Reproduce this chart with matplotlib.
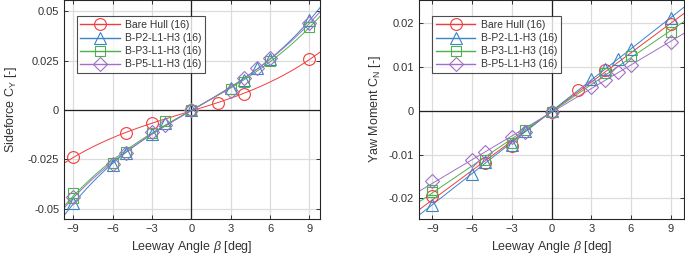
import numpy as np
import matplotlib.pyplot as plt

plt.rcParams['font.family'] = ['Liberation Sans', 'DejaVu Sans']
plt.rcParams['mathtext.fontset'] = 'custom'
plt.rcParams['mathtext.rm'] = 'Liberation Sans'
plt.rcParams['mathtext.it'] = 'Liberation Sans:italic'

labels = ['Bare Hull (16)', 'B-P2-L1-H3 (16)', 'B-P3-L1-H3 (16)', 'B-P5-L1-H3 (16)']
colors = ['#f03c3c', '#3a84c8', '#4cb24c', '#a06fc6']
markers = ['o', '^', 's', 'D']
msizes = [8.5, 8.5, 7.5, 7]

# sideforce C_Y
cy_x = [
    [-9, -5, -3, 0, 2, 4, 9],
    [-9, -6, -5, -3, -2, 0, 3, 4, 5, 6, 9],
    [-9, -9, -6, -5, -3, -2, 0, 3, 4, 6, 9],
    [-9, -6, -5, -3, -2, 0, 3, 4, 5, 6, 9],
]
cy_y = [
    [-0.024, -0.0117, -0.0066, 0.0, 0.0035, 0.0083, 0.0256],
    [-0.0472, -0.028, -0.0218, -0.0122, -0.0068, 0.0, 0.0112, 0.0152, 0.0212, 0.0258, 0.0455],
    [-0.0418, -0.0448, -0.0268, -0.0212, -0.0118, -0.0055, 0.0, 0.0108, 0.0142, 0.0248, 0.042],
    [-0.0442, -0.0272, -0.022, -0.0112, -0.0075, 0.0, 0.0098, 0.0162, 0.0212, 0.0262, 0.0438],
]

# yaw moment C_N
cn_x = [
    [-9, -5, -3, 0, 2, 4, 9],
    [-9, -6, -5, -3, -2, 0, 3, 4, 5, 6, 9],
    [-9, -9, -5, -3, -2, 0, 4, 6, 9],
    [-9, -6, -5, -3, -2, 0, 3, 4, 5, 6, 9],
]
cn_y = [
    [-0.0195, -0.012, -0.008, -0.0002, 0.0048, 0.0093, 0.0198],
    [-0.0215, -0.0145, -0.0116, -0.0078, -0.0045, 0.0, 0.0072, 0.0095, 0.0118, 0.014, 0.0212],
    [-0.018, -0.0186, -0.0113, -0.0073, -0.0043, -0.0002, 0.0087, 0.0125, 0.018],
    [-0.016, -0.0112, -0.0095, -0.006, -0.0048, -0.0003, 0.0055, 0.007, 0.0088, 0.0105, 0.0158],
]

text_c = '#333333'


def style_axes(ax, xlim, ylim, yticks, yticklabels):
    ax.set_xlim(xlim)
    ax.set_ylim(ylim)
    ax.set_xticks([-9, -6, -3, 0, 3, 6, 9])
    ax.set_yticks(yticks)
    ax.set_yticklabels(yticklabels)
    ax.grid(True, color='#dcdcdc', linewidth=0.9, zorder=0)
    ax.axhline(0, color='#222222', linewidth=0.9, zorder=1)
    ax.axvline(0, color='#222222', linewidth=0.9, zorder=1)
    ax.tick_params(direction='in', top=True, right=True, labelsize=8,
                   colors=text_c, length=3, width=0.7)
    for s in ax.spines.values():
        s.set_color('#262626')
        s.set_linewidth(0.8)
    ax.set_axisbelow(True)


def draw(ax, xs, ys, deg, xlim):
    xf = np.linspace(xlim[0], xlim[1], 200)
    for x, y, c, m, ms, lab in zip(xs, ys, colors, markers, msizes, labels):
        p = np.polyfit(x, y, deg)
        ax.plot(xf, np.polyval(p, xf), color=c, linewidth=0.7, zorder=2)
        ax.plot(x, y, linestyle='none', marker=m, markersize=ms,
                markerfacecolor='none', markeredgecolor=c, markeredgewidth=0.8, zorder=3)
        ax.plot([], [], color=c, linewidth=1.0, marker=m, markersize=ms,
                markerfacecolor='none', markeredgecolor=c, markeredgewidth=0.8, label=lab)
    leg = ax.legend(loc='upper left', bbox_to_anchor=(0.05, 0.925), fontsize=7.5,
                    handlelength=3.8, frameon=True, fancybox=False, borderpad=0.35,
                    labelspacing=0.3, handletextpad=0.5, borderaxespad=0)
    leg.get_frame().set_edgecolor('#222222')
    leg.get_frame().set_linewidth(0.8)
    for t in leg.get_texts():
        t.set_color(text_c)


fig = plt.figure(figsize=(6.85, 2.57), dpi=100)
ax1 = fig.add_axes([64 / 685, 38 / 257, 256 / 685, 219 / 257])
ax2 = fig.add_axes([419 / 685, 38 / 257, 265 / 685, 219 / 257])

xl1 = (-9.7, 9.8)
draw(ax1, cy_x, cy_y, 3, xl1)
style_axes(ax1, xl1, (-0.0552, 0.0557), [-0.05, -0.025, 0, 0.025, 0.05],
           ['-0.05', '-0.025', '0', '0.025', '0.05'])
ax1.set_ylabel('Sideforce C$_\\mathregular{Y}$ [-]', fontsize=9, color=text_c, labelpad=6)
ax1.set_xlabel('Leeway Angle $\\it{\\beta}$ [deg]', fontsize=9, color=text_c, labelpad=4)

xl2 = (-10, 10)
draw(ax2, cn_x, cn_y, 1, xl2)
style_axes(ax2, xl2, (-0.0247, 0.0253), [-0.02, -0.01, 0, 0.01, 0.02],
           ['-0.02', '-0.01', '0', '0.01', '0.02'])
ax2.set_ylabel('Yaw Moment C$_\\mathregular{N}$ [-]', fontsize=9, color=text_c, labelpad=4)
ax2.set_xlabel('Leeway Angle $\\it{\\beta}$ [deg]', fontsize=9, color=text_c, labelpad=4)

fig.savefig('out.png', dpi=100)
